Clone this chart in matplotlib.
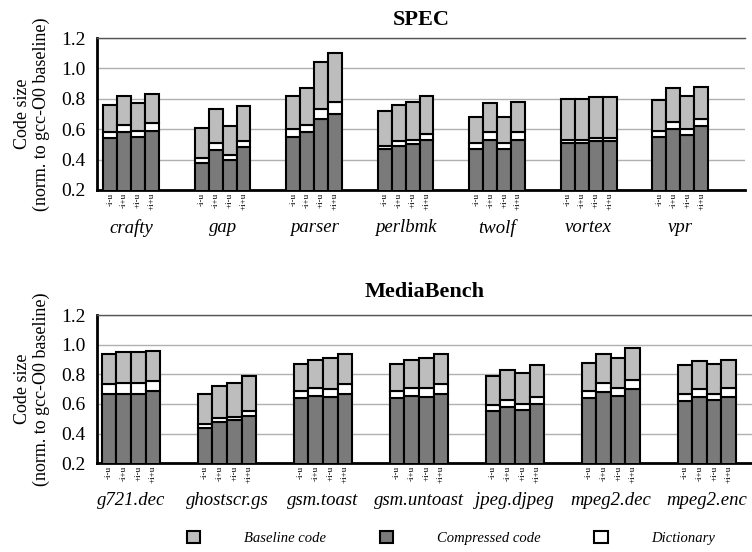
import matplotlib
matplotlib.use("Agg")
import matplotlib.pyplot as plt
from matplotlib.patches import Patch
import numpy as np

plt.rcParams['font.family'] = ['Liberation Serif', 'DejaVu Serif']

variants = ["-i-u", "-i+u", "+i-u", "+i+u"]

spec_names = ["crafty", "gap", "parser", "perlbmk", "twolf", "vortex", "vpr"]
spec_total = [[0.76, 0.82, 0.77, 0.83], [0.61, 0.73, 0.62, 0.75], [0.82, 0.87, 1.04, 1.10],
              [0.72, 0.76, 0.78, 0.82], [0.68, 0.77, 0.68, 0.78], [0.80, 0.80, 0.81, 0.81],
              [0.79, 0.87, 0.82, 0.88]]
spec_comp = [[0.54, 0.58, 0.55, 0.59], [0.38, 0.46, 0.40, 0.48], [0.55, 0.58, 0.67, 0.70],
             [0.47, 0.49, 0.50, 0.53], [0.47, 0.53, 0.47, 0.53], [0.51, 0.51, 0.52, 0.52],
             [0.55, 0.60, 0.56, 0.62]]
spec_dict = [[0.04, 0.05, 0.04, 0.05], [0.03, 0.05, 0.03, 0.04], [0.05, 0.05, 0.06, 0.08],
             [0.02, 0.03, 0.03, 0.04], [0.04, 0.05, 0.04, 0.05], [0.02, 0.02, 0.02, 0.02],
             [0.04, 0.05, 0.04, 0.05]]

media_names = ["g721.dec", "ghostscr.gs", "gsm.toast", "gsm.untoast", "jpeg.djpeg", "mpeg2.dec", "mpeg2.enc"]
media_total = [[0.94, 0.95, 0.95, 0.96], [0.67, 0.72, 0.74, 0.79], [0.87, 0.90, 0.91, 0.94],
               [0.87, 0.90, 0.91, 0.94], [0.79, 0.83, 0.81, 0.86], [0.88, 0.94, 0.91, 0.98],
               [0.86, 0.89, 0.87, 0.90]]
media_comp = [[0.67, 0.67, 0.67, 0.69], [0.44, 0.48, 0.49, 0.52], [0.64, 0.655, 0.65, 0.67],
              [0.64, 0.655, 0.65, 0.67], [0.55, 0.58, 0.56, 0.60], [0.64, 0.68, 0.655, 0.70],
              [0.62, 0.65, 0.63, 0.65]]
media_dict = [[0.065, 0.07, 0.07, 0.065], [0.025, 0.025, 0.025, 0.03], [0.045, 0.055, 0.05, 0.065],
              [0.045, 0.055, 0.055, 0.065], [0.04, 0.05, 0.04, 0.05], [0.05, 0.06, 0.05, 0.06],
              [0.05, 0.05, 0.04, 0.06]]

C_BASE = "#bdbdbd"
C_COMP = "#7a7a7a"
C_DICT = "#ffffff"

fig = plt.figure(figsize=(7.52, 5.52), dpi=100)
ax1 = fig.add_axes([0.129, 0.656, 0.862, 0.275])
ax2 = fig.add_axes([0.129, 0.161, 0.871, 0.268])

def draw(ax, names, total, comp, dic, title, xlim, tpad, lx):
    w = 0.152
    offs = (np.arange(4) - 1.5) * w
    xt, xl = [], []
    for g in range(len(names)):
        for k in range(4):
            x = g + offs[k]
            c = comp[g][k]; d = dic[g][k]; t = total[g][k]
            ax.bar(x, c, w, color=C_COMP, edgecolor="black", linewidth=1.5, zorder=3)
            ax.bar(x, d, w, bottom=c, color=C_DICT, edgecolor="black", linewidth=1.5, zorder=3)
            ax.bar(x, t - c - d, w, bottom=c + d, color=C_BASE, edgecolor="black", linewidth=1.5, zorder=3)
            xt.append(x); xl.append(variants[k])
        ax.text(g, -0.25, names[g], transform=ax.get_xaxis_transform(), ha="center", va="center",
                fontsize=13.5, style="italic")
    ax.set_xticks(xt)
    ax.set_xticklabels(xl, rotation=90, fontsize=6.5)
    ax.tick_params(axis="x", length=0, pad=2)
    ax.set_ylim(0.2, 1.2)
    ax.set_yticks([0.2, 0.4, 0.6, 0.8, 1.0, 1.2])
    ax.set_yticklabels(["0.2", "0.4", "0.6", "0.8", "1.0", "1.2"], fontsize=14)
    ax.tick_params(axis="y", length=0, pad=8)
    ax.set_xlim(*xlim)
    ax.yaxis.grid(True, color="#b0b0b0", linewidth=1.0, zorder=0)
    ax.set_axisbelow(True)
    for s in ["left", "bottom"]:
        ax.spines[s].set_linewidth(2)
    ax.spines["top"].set_linewidth(1.0)
    ax.spines["top"].set_color("#555555")
    ax.spines["right"].set_visible(False)
    ax.set_ylabel("Code size\n(norm. to gcc-O0 baseline)", fontsize=13, linespacing=1.1)
    ax.yaxis.set_label_coords(lx, 0.5)
    ax.set_title(title, fontsize=16, fontweight="bold", pad=tpad)

draw(ax1, spec_names, spec_total, spec_comp, spec_dict, "SPEC", (-0.372, 6.71), 9.5, -0.0725)
draw(ax2, media_names, media_total, media_comp, media_dict, "MediaBench", (-0.354, 6.47), 13, -0.0718)

handles = [Patch(facecolor=C_BASE, edgecolor="black", linewidth=1.5),
           Patch(facecolor=C_COMP, edgecolor="black", linewidth=1.5),
           Patch(facecolor=C_DICT, edgecolor="black", linewidth=1.5)]
fig.legend(handles, ["Baseline code", "Compressed code", "Dictionary"], loc="center",
           bbox_to_anchor=(0.6, 0.025), ncol=3, frameon=False, handlelength=0.9, handleheight=0.9,
           handletextpad=3.0, columnspacing=3.7, prop={"style": "italic", "size": 10.5})

fig.savefig("out.png", dpi=100)
